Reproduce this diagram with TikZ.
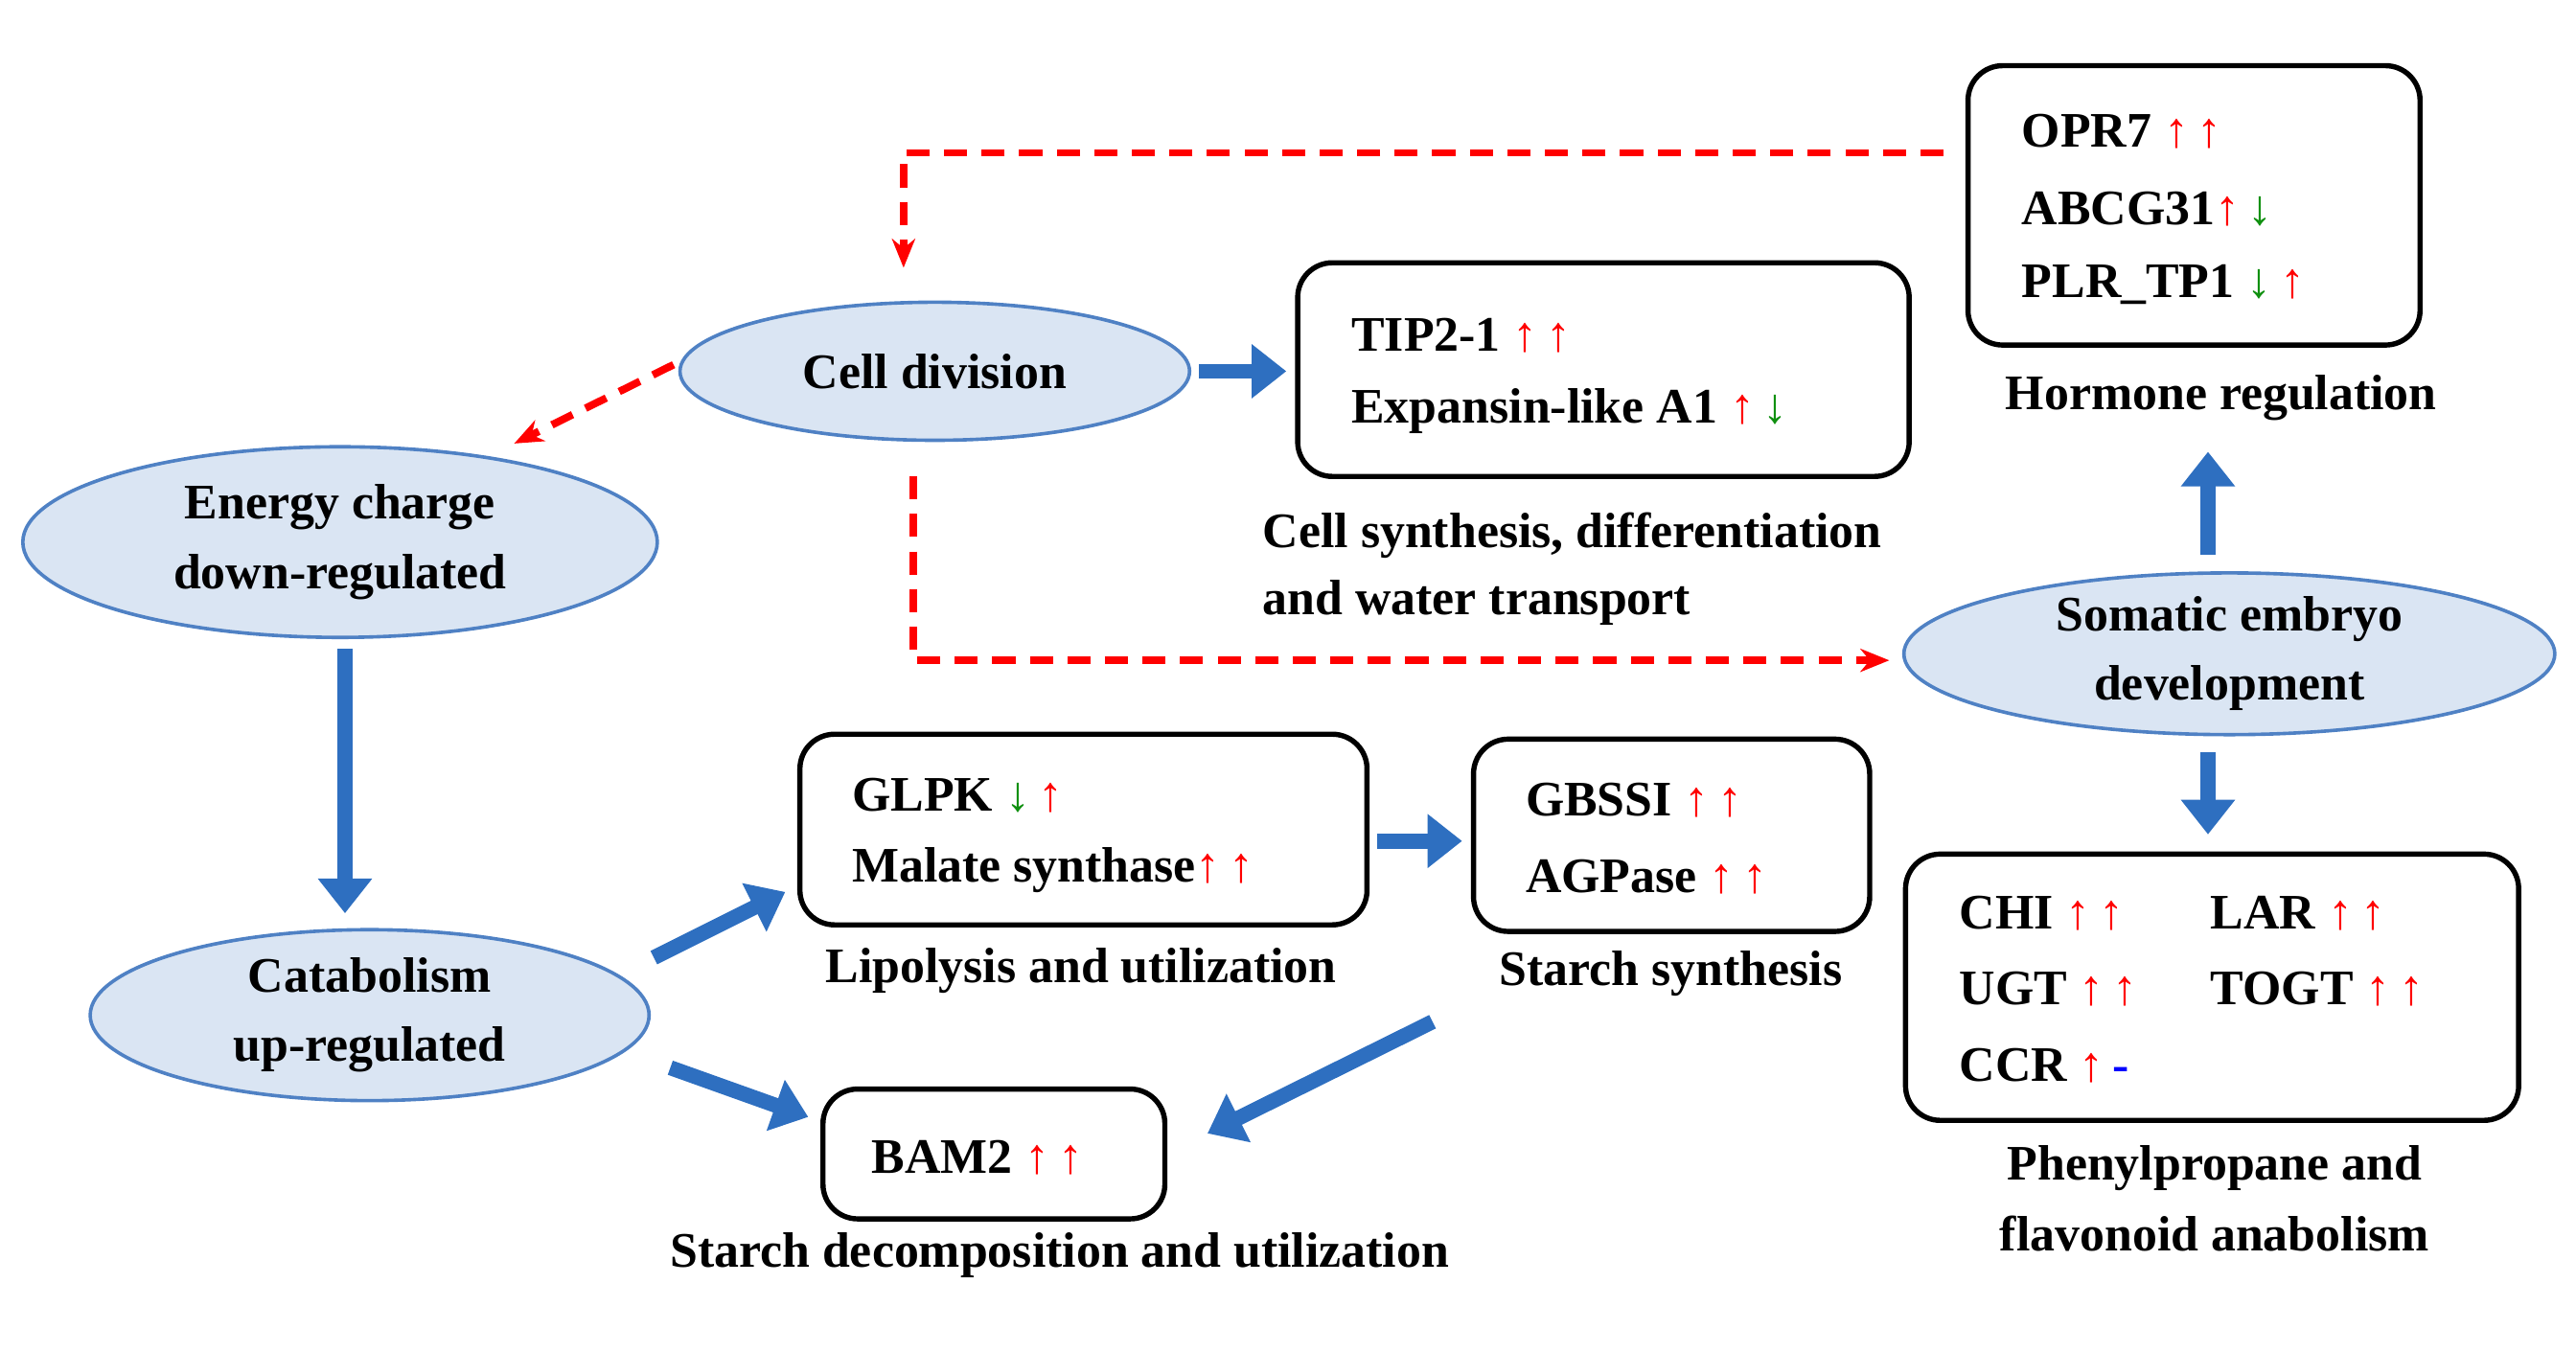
\documentclass[tikz,border=0pt]{standalone}
\usepackage{fontspec}
\setmainfont{Liberation Serif}
\usetikzlibrary{shapes.geometric,arrows.meta}
\definecolor{efill}{HTML}{DAE5F3}
\definecolor{eline}{HTML}{4F81C4}
\definecolor{barrow}{HTML}{2E6FC0}
\definecolor{gr}{HTML}{109010}
\newcommand{\up}{\textcolor{red}{↑}}
\newcommand{\dn}{\textcolor{gr}{↓}}
\begin{document}
\begin{tikzpicture}[x=0.01cm,y=-0.01cm,
  every node/.style={font=\fontsize{8.6}{12}\selectfont\bfseries},
  ell/.style={ellipse,draw=eline,fill=efill,line width=0.6pt,align=center,inner sep=0pt},
  box/.style={draw,rounded corners=6pt,line width=0.9pt,inner sep=0pt},
  txt/.style={anchor=west,inner sep=0pt},
  lab/.style={inner sep=0pt,align=center},
  red dash/.style={draw=red,line width=1.3pt,dash pattern=on 4pt off 2.5pt,-{Stealth[length=5pt,width=4pt]}},
  blk/.style={draw=barrow,line width=2.6pt,-{Triangle[length=6pt,width=9pt]}}]
\useasboundingbox (0,0) rectangle (1568,823);
% ellipses
\node[ell,minimum width=3.1cm,minimum height=0.84cm] (cd) at (569,226) {Cell division};
\node[ell,minimum width=3.86cm,minimum height=1.16cm] (ec) at (207,330) {Energy charge\\down-regulated};
\node[ell,minimum width=3.4cm,minimum height=1.04cm] (ca) at (225,618) {Catabolism\\up-regulated};
\node[ell,minimum width=3.96cm,minimum height=0.92cm] (se) at (1357,398) {Somatic embryo\\development};
% boxes
\node[box,minimum width=2.75cm,minimum height=1.7cm] (hb) at (1335.5,125) {};
\node[txt] (h1) at (1230,80) {OPR7 \up\,\up};
\node[txt] (h2) at (1230,127) {ABCG31\up\,\dn};
\node[txt] (h3) at (1230,173) {PLR\_TP1 \dn\,\up};
\node[lab] (hl) at (1352,242) {Hormone regulation};
\node[box,minimum width=3.72cm,minimum height=1.3cm] (tb) at (976,225) {};
\node[txt] (t1) at (822,204) {TIP2-1 \up\,\up};
\node[txt] (t2) at (822,250) {Expansin-like A1 \up\,\dn};
\node[txt] (tl1) at (768,326) {Cell synthesis, differentiation};
\node[txt] (tl2) at (768,367) {and water transport};
\node[box,minimum width=3.45cm,minimum height=1.16cm] (gb) at (659.5,505) {};
\node[txt] (g1) at (518,484) {GLPK \dn\,\up};
\node[txt] (g2) at (518,530) {Malate synthase\up\,\up};
\node[lab] (gl) at (658,591) {Lipolysis and utilization};
\node[box,minimum width=2.41cm,minimum height=1.17cm] (sb) at (1017.5,508.5) {};
\node[txt] (s1) at (928,487) {GBSSI \up\,\up};
\node[txt] (s2) at (928,534) {AGPase \up\,\up};
\node[lab] (sl) at (1017,593) {Starch synthesis};
\node[box,minimum width=2.08cm,minimum height=0.79cm] (bb) at (605,702.5) {};
\node[txt] (b1) at (530,705) {BAM2 \up\,\up};
\node[lab] (bl) at (645,764) {Starch decomposition and utilization};
\node[box,minimum width=3.73cm,minimum height=1.62cm] (cb) at (1346.5,601) {};
\node[txt] (c1) at (1192,556) {CHI \up\,\up};
\node[txt] (c2) at (1345,556) {LAR \up\,\up};
\node[txt] (c3) at (1192,602) {UGT \up\,\up};
\node[txt] (c4) at (1345,602) {TOGT \up\,\up};
\node[txt] (c5) at (1192,649) {CCR \up\,\textcolor{blue}{-}};
\node[lab] (cl1) at (1348,711) {Phenylpropane and};
\node[lab] (cl2) at (1348,751) {flavonoid anabolism};
% red dashed connectors
\coordinate (r1) at (1183,93); \coordinate (r1b) at (550,93); \coordinate (r1e) at (550,163);
\draw[red dash] (r1) -- (r1b) -- (r1e);
\coordinate (r2) at (410,222); \coordinate (r2e) at (313,270);
\draw[red dash] (r2) -- (r2e);
\coordinate (r3) at (556,290); \coordinate (r3b) at (556,402); \coordinate (r3e) at (1150,402);
\draw[red dash] (r3) -- (r3b) -- (r3e);
% blue block arrows
\coordinate (a1) at (730,226); \coordinate (a1e) at (783,226); \draw[blk] (a1) -- (a1e);
\coordinate (a2) at (210,395); \coordinate (a2e) at (210,556); \draw[blk] (a2) -- (a2e);
\coordinate (a3) at (398,583); \coordinate (a3e) at (478,543); \draw[blk] (a3) -- (a3e);
\coordinate (a4) at (408,650); \coordinate (a4e) at (492,680); \draw[blk] (a4) -- (a4e);
\coordinate (a5) at (838,512); \coordinate (a5e) at (890,512); \draw[blk] (a5) -- (a5e);
\coordinate (a6) at (872,622); \coordinate (a6e) at (735,690); \draw[blk] (a6) -- (a6e);
\coordinate (a7) at (1344,338); \coordinate (a7e) at (1344,275); \draw[blk] (a7) -- (a7e);
\coordinate (a8) at (1344,458); \coordinate (a8e) at (1344,508); \draw[blk] (a8) -- (a8e);
\end{tikzpicture}
\end{document}
